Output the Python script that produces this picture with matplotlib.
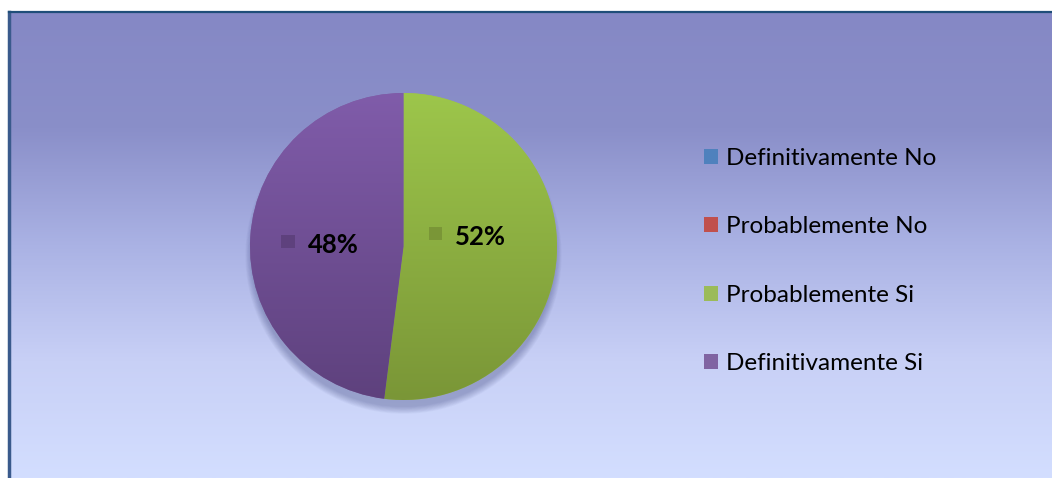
import matplotlib.pyplot as plt
import numpy as np
from matplotlib.patches import Patch, Rectangle, Ellipse
from matplotlib.colors import LinearSegmentedColormap
from matplotlib import rcParams

rcParams['font.family'] = ['Lato', 'DejaVu Sans']

# Survey answers
categories = ['Definitivamente No', 'Probablemente No', 'Probablemente Si', 'Definitivamente Si']
shares = [0, 0, 52, 48]  # percent

# Office-style palette: (top colour, bottom colour) for each slice gradient
colors = ['#4F81BD', '#C0504D', '#9BBB59', '#8064A2']
grad_top = ['#4F86C6', '#CD4744', '#9DC64B', '#805CAA']
grad_bot = ['#2E5D95', '#9A3634', '#7A9637', '#5E417D']

W, H = 1052, 478
fig = plt.figure(figsize=(W / 100, H / 100), dpi=100)
fig.patch.set_facecolor('white')

# Chart area with vertical gradient background
bg = fig.add_axes([9 / W, 0, 1 - 9 / W, 1 - 12 / H])
bg_cmap = LinearSegmentedColormap.from_list('bg', ['#8588C5', '#8A8FC9', '#AAB2E4', '#C8D0F6', '#D3DEFF'])
bg.imshow(np.linspace(0, 1, 256).reshape(-1, 1), aspect='auto', cmap=bg_cmap,
          extent=[0, 1, 0, 1], origin='upper')
bg.set_xlim(0, 1)
bg.set_ylim(0, 1)
bg.set_xticks([])
bg.set_yticks([])
for side in ['right', 'bottom']:
    bg.spines[side].set_visible(False)
bg.spines['top'].set_color('#1F4E79')
bg.spines['top'].set_linewidth(1.6)
bg.spines['left'].set_color('#3A5A8C')
bg.spines['left'].set_linewidth(2.5)

# Pie axes: radius 1 maps to the circle drawn on the chart
ax = fig.add_axes([250 / W, 78 / H, 307 / W, 307 / H])

# soft shadow mostly below the pie
for i in range(10):
    s = 0.985 + i * 0.005
    ax.add_patch(Ellipse((0.0, -0.06), 2 * s, 2 * s, facecolor='#1E2660',
                         alpha=0.03, edgecolor='none', zorder=0, clip_on=False))

wedges, _ = ax.pie(shares, colors=colors, startangle=90, counterclock=False,
                   radius=1, frame=True, wedgeprops=dict(linewidth=0))
ax.set_xlim(-1, 1)
ax.set_ylim(-1, 1)
ax.set_aspect('equal')
ax.axis('off')

grad = np.linspace(0, 1, 256).reshape(-1, 1)
for w, top, bot in zip(wedges, grad_top, grad_bot):
    cm = LinearSegmentedColormap.from_list('w', [top, bot])
    im = ax.imshow(grad, cmap=cm, extent=[-1, 1, -1, 1], origin='upper',
                   aspect='auto', zorder=2)
    im.set_clip_path(w)

# percentage labels with small colour keys
label_pos = {2: (0.41, 0.065), 3: (-0.55, 0.013)}
for i, (x, y) in label_pos.items():
    txt = f'{shares[i]}%'
    ax.text(x + 0.09, y, txt, ha='center', va='center', fontsize=18.5,
            fontweight='bold', color='black', zorder=5)
    ax.add_patch(Rectangle((x - 0.245, y - 0.025), 0.085, 0.085,
                           facecolor=grad_bot[i], edgecolor='none', zorder=4))

# legend
handles = [Patch(facecolor=c, edgecolor='none') for c in colors]
fig.legend(handles, categories, loc='upper left', bbox_to_anchor=(704 / W, 1 - 148 / H),
           frameon=False, fontsize=17.5, handlelength=0.58, handleheight=0.58,
           handletextpad=0.33, labelspacing=1.95, borderpad=0, borderaxespad=0)

plt.savefig('out.png', dpi=100, facecolor='white')
plt.close()
